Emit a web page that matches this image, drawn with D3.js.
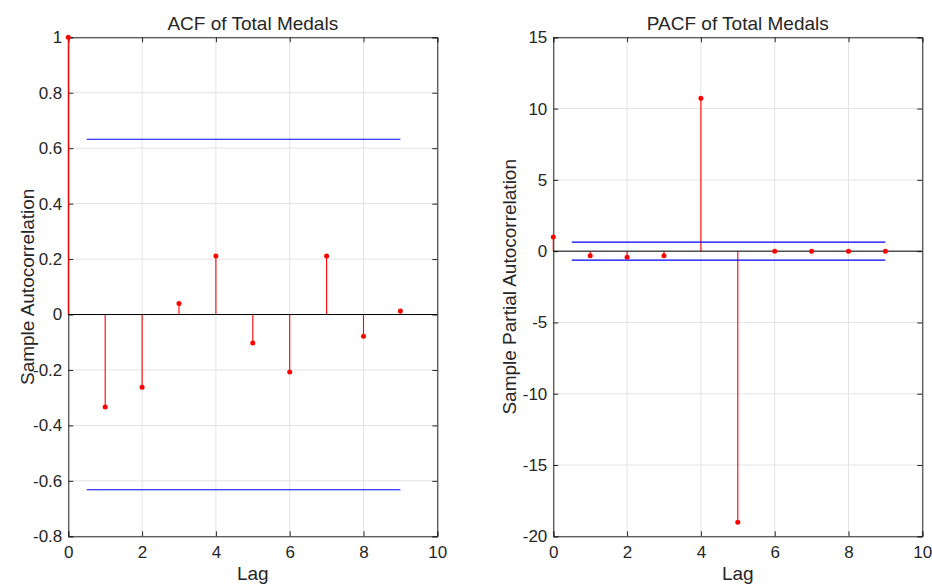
<!DOCTYPE html>
<html><head><meta charset="utf-8">
<script src="https://cdn.jsdelivr.net/npm/d3@7"></script>
<style>
body{margin:0;background:#fff;}
text{font-family:Arial,"Liberation Sans",Helvetica,sans-serif;fill:#262626;}
</style></head>
<body><svg id="c" width="932" height="585"></svg>
<script>
const lags = [0,1,2,3,4,5,6,7,8,9];
const acfValues = [1, -0.334, -0.262, 0.040, 0.211, -0.103, -0.207, 0.211, -0.078, 0.013];
const pacfValues = [1.0, -0.33, -0.42, -0.33, 10.73, -19.01, 0, 0, 0, 0];
const acfBound = 0.632;
const pacfBound = 0.632;
const boundRange = [0.5, 9];
const xTicks = [0,2,4,6,8,10];
const acfYTicks = [-0.8,-0.6,-0.4,-0.2,0,0.2,0.4,0.6,0.8,1];
const pacfYTicks = [-20,-15,-10,-5,0,5,10,15];
const titles = ["ACF of Total Medals","PACF of Total Medals"];
const yLabels = ["Sample Autocorrelation","Sample Partial Autocorrelation"];
const xLabel = "Lag";

const svg = d3.select("#c");
svg.append("rect").attr("width",932).attr("height",585).attr("fill","#fff");

function panel(opt){
  const {x0,x1,y0,y1,values,bound,yDomain,yTicks,title,ylab,ylabX} = opt;
  const g = svg.append("g");
  const x = d3.scaleLinear().domain([0,10]).range([x0,x1]);
  const y = d3.scaleLinear().domain(yDomain).range([y1,y0]);
  // grid
  g.selectAll(".gx").data(xTicks).join("line")
    .attr("x1",d=>x(d)).attr("x2",d=>x(d)).attr("y1",y0).attr("y2",y1)
    .attr("stroke","#e3e3e3").attr("stroke-width",1);
  g.selectAll(".gy").data(yTicks).join("line")
    .attr("y1",d=>y(d)).attr("y2",d=>y(d)).attr("x1",x0).attr("x2",x1)
    .attr("stroke","#e3e3e3").attr("stroke-width",1);
  // axes
  const fmt = d=>String(d);
  const axB = d3.axisBottom(x).tickValues(xTicks).tickSize(-5).tickPadding(10).tickFormat(fmt);
  const axT = d3.axisTop(x).tickValues(xTicks).tickSize(-5).tickFormat("");
  const axL = d3.axisLeft(y).tickValues(yTicks).tickSize(-5).tickPadding(6).tickFormat(fmt);
  const axR = d3.axisRight(y).tickValues(yTicks).tickSize(-5).tickFormat("");
  const style = sel=>{sel.attr("font-size",null).attr("font-family",null);
    sel.selectAll("path,line").attr("stroke","#262626");
    sel.selectAll("text").attr("fill","#262626").style("font-size","17px");};
  g.append("g").attr("transform",`translate(0,${y1})`).call(axB).call(style);
  g.append("g").attr("transform",`translate(0,${y0})`).call(axT).call(style);
  g.append("g").attr("transform",`translate(${x0},0)`).call(axL).call(style);
  g.append("g").attr("transform",`translate(${x1},0)`).call(axR).call(style);
  // stems
  g.selectAll(".stem").data(lags).join("line")
    .attr("x1",d=>x(d)).attr("x2",d=>x(d)).attr("y1",y(0)).attr("y2",(d,i)=>y(values[i]))
    .attr("stroke","#ff0000").attr("stroke-width",1.1);
  // zero line
  g.append("line").attr("x1",x(0)).attr("x2",x(10)).attr("y1",y(0)).attr("y2",y(0))
    .attr("stroke","#000").attr("stroke-width",1);
  // bounds
  [bound,-bound].forEach(b=>{
    g.append("line").attr("x1",x(boundRange[0])).attr("x2",x(boundRange[1]))
      .attr("y1",y(b)).attr("y2",y(b)).attr("stroke","#0000ff").attr("stroke-width",1.1);
  });
  // markers
  g.selectAll(".mk").data(lags).join("circle")
    .attr("cx",d=>x(d)).attr("cy",(d,i)=>y(values[i])).attr("r",2.5).attr("fill","#ff0000");
  // title
  g.append("text").attr("x",(x0+x1)/2).attr("y",30).attr("text-anchor","middle")
    .style("font-size","19px").text(title);
  g.append("text").attr("x",(x0+x1)/2).attr("y",580).attr("text-anchor","middle")
    .style("font-size","19px").text(xLabel);
  g.append("text").attr("transform",`translate(${ylabX},${(y0+y1)/2}) rotate(-90)`)
    .attr("text-anchor","middle").style("font-size","19px").text(ylab);
}

panel({x0:68.3,x1:437.3,y0:37.3,y1:536.3,values:acfValues,bound:acfBound,
  yDomain:[-0.8,1],yTicks:acfYTicks,title:titles[0],ylab:yLabels[0],ylabX:34});
panel({x0:553.3,x1:922.3,y0:37.3,y1:536.3,values:pacfValues,bound:pacfBound,
  yDomain:[-20,15],yTicks:pacfYTicks,title:titles[1],ylab:yLabels[1],ylabX:516});
</script></body></html>
